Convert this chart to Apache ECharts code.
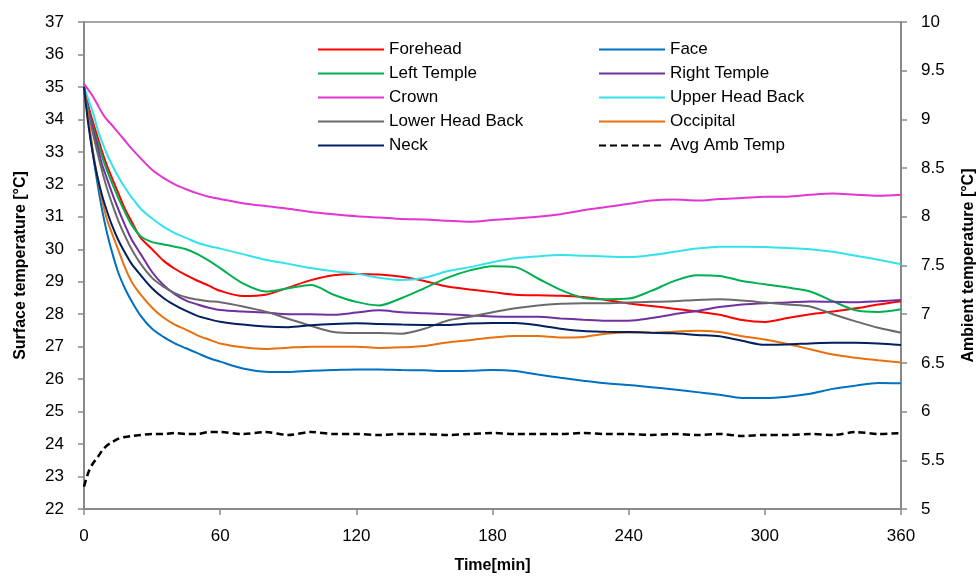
<!DOCTYPE html>
<html><head><meta charset="utf-8">
<script src="https://cdn.jsdelivr.net/npm/echarts@6/dist/echarts.min.js"></script>
<style>html,body{margin:0;padding:0;background:#fff}#c{width:980px;height:578px}</style>
</head><body><div id="c"></div>
<script>
const times = [0,2,4,6,8,10,12,15,18,21,25,30,35,40,45,50,55,60,70,80,90,100,110,120,130,140,150,160,170,180,190,200,210,220,230,240,250,260,270,280,290,300,310,320,330,340,350,360];
const forehead = [35,34.4,33.9,33.45,33.0,32.6,32.25,31.75,31.25,30.85,30.35,30.0,29.65,29.4,29.2,29.03,28.88,28.72,28.56,28.6,28.82,29.05,29.2,29.24,29.22,29.15,29.02,28.85,28.76,28.68,28.6,28.58,28.57,28.53,28.44,28.33,28.25,28.17,28.08,27.98,27.82,27.76,27.88,28.0,28.08,28.18,28.3,28.4];
const face = [35,33.9,32.9,32.0,31.2,30.55,30.0,29.3,28.8,28.4,27.95,27.55,27.3,27.1,26.95,26.8,26.65,26.54,26.33,26.23,26.22,26.26,26.28,26.3,26.3,26.28,26.27,26.25,26.26,26.28,26.25,26.14,26.04,25.95,25.87,25.82,25.75,25.68,25.6,25.52,25.42,25.42,25.46,25.55,25.7,25.8,25.88,25.87];
const leftTemple = [35,34.3,33.75,33.3,32.85,32.45,32.1,31.6,31.15,30.75,30.4,30.22,30.15,30.08,30.0,29.85,29.65,29.42,28.95,28.7,28.8,28.9,28.6,28.38,28.27,28.5,28.8,29.12,29.35,29.48,29.45,29.1,28.75,28.5,28.46,28.48,28.72,29.02,29.2,29.18,29.02,28.92,28.82,28.7,28.4,28.12,28.07,28.15];
const rightTemple = [35,34.3,33.7,33.15,32.6,32.2,31.8,31.25,30.75,30.3,29.85,29.3,28.9,28.62,28.42,28.3,28.2,28.13,28.08,28.05,28.0,28.0,27.98,28.05,28.12,28.06,28.03,28.0,27.96,27.93,27.92,27.92,27.87,27.83,27.8,27.8,27.88,28.0,28.1,28.22,28.3,28.34,28.36,28.39,28.38,28.37,28.4,28.44];
const crown = [35.1,34.9,34.7,34.45,34.2,34.0,33.85,33.6,33.35,33.1,32.8,32.45,32.2,32.0,31.85,31.72,31.62,31.55,31.42,31.33,31.25,31.15,31.08,31.02,30.98,30.93,30.92,30.88,30.85,30.9,30.95,31.0,31.08,31.2,31.3,31.4,31.5,31.53,31.5,31.55,31.58,31.62,31.62,31.68,31.72,31.68,31.65,31.68];
const upperHeadBack = [35,34.6,34.2,33.7,33.3,32.95,32.65,32.25,31.9,31.6,31.25,30.95,30.7,30.5,30.35,30.2,30.1,30.02,29.85,29.68,29.55,29.42,29.32,29.25,29.12,29.05,29.12,29.32,29.45,29.6,29.72,29.78,29.82,29.8,29.78,29.76,29.82,29.92,30.02,30.08,30.08,30.07,30.04,30.0,29.92,29.8,29.68,29.54];
const lowerHeadBack = [35,34.2,33.55,32.95,32.4,31.9,31.48,30.9,30.42,30.0,29.55,29.12,28.85,28.65,28.52,28.45,28.4,28.37,28.24,28.08,27.86,27.64,27.45,27.42,27.42,27.4,27.55,27.8,27.92,28.06,28.18,28.27,28.32,28.34,28.34,28.36,28.38,28.4,28.44,28.46,28.42,28.36,28.3,28.24,28.0,27.78,27.58,27.43];
const occipital = [35,34.0,33.0,32.2,31.5,30.95,30.55,30.0,29.45,29.0,28.6,28.2,27.9,27.68,27.52,27.35,27.22,27.1,26.98,26.93,26.97,27.0,27.0,27.0,26.96,26.98,27.02,27.13,27.2,27.28,27.33,27.33,27.28,27.3,27.4,27.44,27.43,27.46,27.49,27.45,27.32,27.22,27.08,26.92,26.76,26.66,26.58,26.51];
const neck = [35,33.8,32.9,32.2,31.65,31.2,30.8,30.3,29.9,29.55,29.2,28.8,28.5,28.28,28.1,27.95,27.85,27.77,27.68,27.62,27.6,27.66,27.7,27.72,27.7,27.68,27.67,27.67,27.71,27.73,27.73,27.66,27.55,27.48,27.46,27.45,27.43,27.41,27.36,27.32,27.18,27.06,27.07,27.1,27.12,27.12,27.1,27.05];
const avgAmbTemp = [5.23,5.38,5.47,5.53,5.6,5.65,5.68,5.72,5.74,5.75,5.76,5.77,5.77,5.78,5.77,5.77,5.79,5.79,5.77,5.79,5.76,5.79,5.77,5.77,5.76,5.77,5.77,5.76,5.77,5.78,5.77,5.77,5.77,5.78,5.77,5.77,5.76,5.77,5.76,5.77,5.75,5.76,5.76,5.77,5.76,5.79,5.77,5.78];

const seriesDefs = [
  {name:'Forehead', data:forehead, color:'#FF0000'},
  {name:'Face', data:face, color:'#0070C0'},
  {name:'Left Temple', data:leftTemple, color:'#00B050'},
  {name:'Right Temple', data:rightTemple, color:'#7030A0'},
  {name:'Crown', data:crown, color:'#E236D0'},
  {name:'Upper Head Back', data:upperHeadBack, color:'#33E2EC'},
  {name:'Lower Head Back', data:lowerHeadBack, color:'#6A6A6A'},
  {name:'Occipital', data:occipital, color:'#E8700F'},
  {name:'Neck', data:neck, color:'#002060'},
  {name:'Avg Amb Temp', data:avgAmbTemp, color:'#000000', right:true}
];

const FONT = 'Liberation Sans';
const axisCol = '#898989';
const chart = echarts.init(document.getElementById('c'), null, {renderer:'canvas'});

const series = seriesDefs.map(d => ({
  name: d.name,
  type: 'line',
  yAxisIndex: d.right ? 1 : 0,
  data: times.map((t,i) => [t, d.data[i]]),
  symbol: 'none',
  showSymbol: false,
  smooth: 0.3,
  animation: false,
  color: d.color,
  lineStyle: d.right ? {color:d.color, width:2.5, type:[7,4]} : {color:d.color, width:2}
}));

const legendCommon = {
  orient: 'vertical',
  padding: 0,
  itemWidth: 66,
  itemHeight: 14,
  itemGap: 7,
  itemStyle: {opacity: 0},
  textStyle: {fontFamily: FONT, fontSize: 17, color: '#000', lineHeight: 16},
  selectedMode: false
};

chart.setOption({
  backgroundColor: '#fff',
  animation: false,
  grid: {left: 84, right: 79, top: 22, bottom: 69, show: true, borderColor: axisCol, borderWidth: 1.5, backgroundColor: 'transparent', containLabel: false, outerBoundsMode: 'none'},
  legend: [
    Object.assign({left: 317, top: 41, data: ['Forehead','Left Temple','Crown','Lower Head Back','Neck']}, legendCommon),
    Object.assign({left: 598, top: 41, data: ['Face','Right Temple','Upper Head Back','Occipital','Avg Amb Temp']}, legendCommon)
  ],
  xAxis: {
    type: 'value', min: 0, max: 360, interval: 60,
    name: 'Time[min]', nameLocation: 'middle', nameGap: 49,
    nameTextStyle: {fontFamily: FONT, fontSize: 16, fontWeight: 'bold', color: '#000'},
    axisLine: {show: true, lineStyle: {color: axisCol, width: 2}},
    axisTick: {show: true, inside: false, length: 6, lineStyle: {color: axisCol, width: 1.5}},
    axisLabel: {fontFamily: FONT, fontSize: 17, color: '#000', margin: 19},
    splitLine: {show: false}
  },
  yAxis: [
    {
      type: 'value', min: 22, max: 37, interval: 1, position: 'left',
      name: 'Surface temperature [°C]', nameLocation: 'middle', nameGap: 55, nameRotate: 90,
      nameTextStyle: {fontFamily: FONT, fontSize: 16, fontWeight: 'bold', color: '#000'},
      axisLine: {show: true, lineStyle: {color: axisCol, width: 2}},
      axisTick: {show: true, inside: false, length: 6, lineStyle: {color: axisCol, width: 1.5}},
      axisLabel: {fontFamily: FONT, fontSize: 17, color: '#000', margin: 20},
      splitLine: {show: false}
    },
    {
      type: 'value', min: 5, max: 10, interval: 0.5, position: 'right',
      name: 'Ambient temperature [°C]', nameLocation: 'middle', nameGap: 60, nameRotate: 90,
      nameTextStyle: {fontFamily: FONT, fontSize: 16, fontWeight: 'bold', color: '#000'},
      axisLine: {show: true, lineStyle: {color: axisCol, width: 2}},
      axisTick: {show: true, inside: false, length: 6, lineStyle: {color: axisCol, width: 1.5}},
      axisLabel: {fontFamily: FONT, fontSize: 17, color: '#000', margin: 20},
      splitLine: {show: false}
    }
  ],
  series: series
});
</script></body></html>
